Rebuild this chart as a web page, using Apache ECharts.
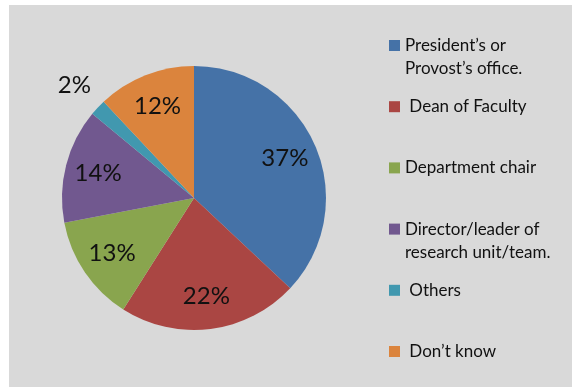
<!DOCTYPE html>
<html>
<head>
<meta charset="utf-8">
<script src="https://cdn.jsdelivr.net/npm/echarts@6/dist/echarts.min.js"></script>
<style>
  html, body { margin: 0; padding: 0; background: #ffffff; }
  #chart { position: absolute; left: 9px; top: 5px; width: 563px; height: 382px; background: #d9d9d9; }
</style>
</head>
<body>
<div id="chart"></div>
<script>
// Who initiates / is responsible (share of respondents, %)
const categories = [
  "President’s or Provost’s office.",
  "Dean of Faculty",
  "Department chair",
  "Director/leader of research unit/team.",
  "Others",
  "Don’t know"
];
const shares = [37, 22, 13, 14, 2, 12];
// Legend text as it is broken over lines
const legendLines = [
  ["President’s or", "Provost’s office."],
  [" Dean of Faculty"],
  ["Department chair"],
  ["Director/leader of", "research unit/team."],
  [" Others"],
  [" Don’t know"]
];
const colors = ['#4572A7', '#AA4643', '#89A54E', '#71588F', '#4198AF', '#DB843D'];

const FONT = 'Lato';
const CENTER = [185, 193];
const R = 132;

const sliceData = categories.map((name, i) => ({ name, value: shares[i], itemStyle: { color: colors[i] } }));

// Labels ride on transparent copies of the pie so they sit further out than mid-radius
const labelData = (showSmall) => categories.map((name, i) => ({
  name, value: shares[i],
  itemStyle: { color: 'rgba(0,0,0,0)' },
  label: { show: showSmall ? shares[i] < 5 : shares[i] >= 5 }
}));

const labelStyle = {
  position: 'inside',
  formatter: '{c}%',
  color: '#111111',
  fontFamily: FONT,
  fontSize: 24
};

const chart = echarts.init(document.getElementById('chart'), null, { renderer: 'canvas' });
chart.setOption({
  backgroundColor: '#d9d9d9',
  animation: false,
  legend: {
    orient: 'vertical',
    left: 380,
    top: 6,
    padding: 0,
    itemGap: -7.8,
    itemWidth: 11,
    itemHeight: 11,
    icon: 'rect',
    selectedMode: false,
    data: categories,
    formatter: (name) => {
      const lines = legendLines[categories.indexOf(name)];
      return lines.length > 1 ? '\n' + lines.join('\n') : '\n' + lines[0] + '\n';
    },
    textStyle: { color: '#111111', fontFamily: FONT, fontSize: 17, lineHeight: 23 }
  },
  series: [
    {
      type: 'pie',
      center: CENTER,
      radius: R,
      startAngle: 90,
      clockwise: true,
      label: { show: false },
      labelLine: { show: false },
      silent: true,
      data: sliceData
    },
    {
      type: 'pie',
      center: CENTER,
      radius: 192,
      startAngle: 90,
      clockwise: true,
      silent: true,
      label: labelStyle,
      labelLine: { show: false },
      data: labelData(false)
    },
    {
      type: 'pie',
      center: CENTER,
      radius: 322,
      startAngle: 90,
      clockwise: true,
      silent: true,
      label: labelStyle,
      labelLine: { show: false },
      data: labelData(true)
    }
  ]
});
</script>
</body>
</html>
